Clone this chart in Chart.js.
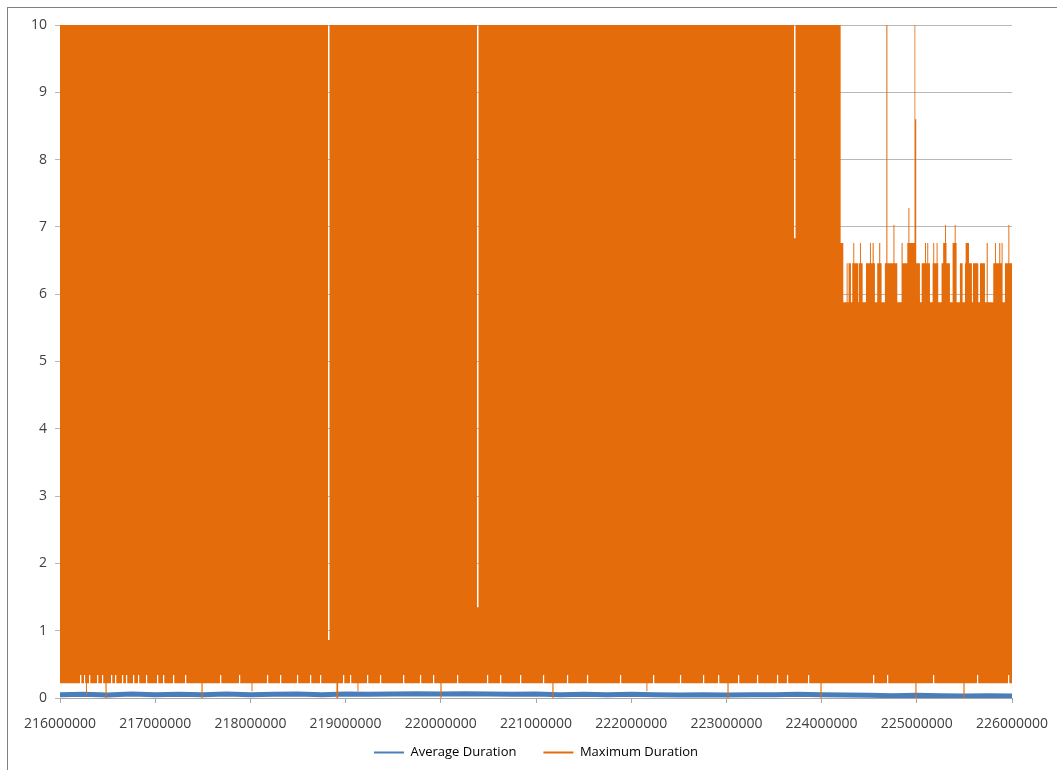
<!DOCTYPE html>
<html>
<head>
<meta charset="utf-8">
<script src="https://cdn.jsdelivr.net/npm/chart.js@4.4.1/dist/chart.umd.min.js"></script>
<style>
  html, body { margin: 0; padding: 0; background: #fff; }
  #wrap { position: relative; width: 1057px; height: 770px; overflow: hidden; }
  #frame { position: absolute; left: 7px; top: 7px; right: 0; bottom: 0;
           border-left: 1px solid #808080; border-top: 1px solid #808080; }
  #chart { position: absolute; left: 0; top: 0; }
</style>
</head>
<body>
<div id="wrap">
  <div id="frame"></div>
  <canvas id="chart" width="1057" height="770"></canvas>
</div>
<script>
// DATA (x values in thousands)
const xMin = 216000;
const xMax = 226000;
const xStep = 1000;
const yTicksMax = 10;

const ORANGE = '#e46c0a';
const BLUE = '#4a7ebb';

// Average Duration
const avgDuration = [
  [216000, 0.05], [216250, 0.055], [216500, 0.045], [216750, 0.06], [217000, 0.05],
  [217250, 0.055], [217500, 0.05], [217750, 0.06], [218000, 0.05], [218250, 0.055],
  [218500, 0.06], [218750, 0.05], [219000, 0.06], [219250, 0.055], [219500, 0.06],
  [219750, 0.065], [220000, 0.06], [220250, 0.065], [220500, 0.06], [220750, 0.055],
  [221000, 0.06], [221250, 0.05], [221500, 0.055], [221750, 0.05], [222000, 0.055],
  [222250, 0.05], [222500, 0.045], [222750, 0.05], [223000, 0.045], [223250, 0.05],
  [223500, 0.05], [223750, 0.055], [224000, 0.05], [224250, 0.045], [224500, 0.04],
  [224750, 0.035], [225000, 0.04], [225250, 0.035], [225500, 0.03], [225750, 0.035],
  [226000, 0.03]
];

// Maximum Duration - upper edge of the dense band
const maxUpper = [
  [216000, 10], [218815, 0.86], [218831, 10], [220380, 1.35], [220396, 10],
  [223710, 6.83], [223726, 10],
  [224200, 6.76], [224228, 5.88], [224263, 6.46], [224273, 5.88], [224283, 6.46],
  [224308, 5.88], [224322, 6.46], [224333, 6.76], [224343, 6.46], [224385, 5.88],
  [224392, 6.46], [224403, 6.76], [224413, 6.46], [224431, 5.88], [224466, 6.46],
  [224508, 6.76], [224518, 6.46], [224536, 6.76], [224547, 6.46], [224560, 5.88],
  [224584, 6.46], [224605, 6.76], [224616, 6.46], [224630, 5.88], [224665, 6.46],
  [224680, 10], [224691, 6.46], [224755, 7.03], [224765, 6.46], [224795, 5.88],
  [224840, 6.76], [224851, 6.46], [224900, 6.76], [224912, 7.28], [224922, 6.76],
  [224976, 10], [224984, 8.6], [224994, 6.46], [225033, 5.88], [225051, 6.46],
  [225086, 6.76], [225096, 6.46], [225110, 6.76], [225120, 6.46], [225138, 5.88],
  [225166, 6.46], [225173, 6.76], [225183, 6.46], [225208, 6.76], [225218, 6.46],
  [225225, 5.88], [225260, 6.46], [225277, 6.76], [225296, 7.03], [225306, 6.76],
  [225312, 6.46], [225348, 5.88], [225376, 6.76], [225398, 7.03], [225408, 6.76],
  [225418, 5.88], [225453, 6.46], [225481, 5.88], [225506, 6.46], [225513, 6.76],
  [225548, 6.46], [225579, 5.88], [225590, 6.46], [225646, 5.88], [225664, 6.46],
  [225716, 5.88], [225734, 6.76], [225745, 5.88], [225803, 6.46], [225821, 6.76],
  [225831, 6.46], [225866, 6.76], [225877, 6.46], [225891, 6.76], [225901, 5.88],
  [225926, 6.46], [225962, 7.03], [225972, 6.46], [226000, 6.46]
];

// Maximum Duration - lower edge of the dense band
const maxLower = [
  [216000, 0.22],
  [216210, 0.34], [216224, 0.22], [216252, 0.34], [216264, 0.22],
  [216273, 0.05], [216283, 0.22], [216305, 0.34], [216318, 0.22],
  [216389, 0.34], [216402, 0.22], [216441, 0.34], [216454, 0.22],
  [216478, 0.0], [216490, 0.22], [216536, 0.34], [216549, 0.22],
  [216578, 0.34], [216591, 0.22], [216651, 0.34], [216664, 0.22],
  [216693, 0.34], [216706, 0.22], [216767, 0.34], [216780, 0.22],
  [216819, 0.34], [216832, 0.22], [216903, 0.34], [216916, 0.22],
  [217019, 0.34], [217032, 0.22], [217082, 0.34], [217095, 0.22],
  [217187, 0.34], [217200, 0.22], [217313, 0.34], [217326, 0.22],
  [217486, 0.0], [217498, 0.22], [217681, 0.34], [217694, 0.22],
  [217880, 0.34], [217893, 0.22], [218012, 0.1], [218022, 0.22],
  [218174, 0.34], [218187, 0.22], [218311, 0.34], [218324, 0.22],
  [218489, 0.34], [218502, 0.22], [218626, 0.34], [218639, 0.22],
  [218731, 0.34], [218744, 0.22], [218904, 0.0], [218922, 0.22],
  [218973, 0.34], [218986, 0.22], [219046, 0.34], [219059, 0.22],
  [219125, 0.1], [219135, 0.22], [219225, 0.34], [219238, 0.22],
  [219361, 0.34], [219374, 0.22], [219603, 0.34], [219616, 0.22],
  [219781, 0.34], [219794, 0.22], [219918, 0.34], [219931, 0.22],
  [219996, 0.0], [220008, 0.22], [220170, 0.34], [220183, 0.22],
  [220485, 0.34], [220498, 0.22], [220622, 0.34], [220635, 0.22],
  [220832, 0.34], [220845, 0.22], [221073, 0.34], [221086, 0.22],
  [221172, 0.0], [221184, 0.22], [221325, 0.34], [221338, 0.22],
  [221535, 0.34], [221548, 0.22], [221882, 0.34], [221895, 0.22],
  [222160, 0.1], [222170, 0.22], [222229, 0.34], [222242, 0.22],
  [222512, 0.34], [222525, 0.22], [222754, 0.34], [222767, 0.22],
  [222912, 0.34], [222925, 0.22], [223011, 0.0], [223023, 0.22],
  [223122, 0.34], [223135, 0.22], [223321, 0.34], [223334, 0.22],
  [223531, 0.34], [223544, 0.22], [223636, 0.34], [223649, 0.22],
  [223857, 0.34], [223870, 0.22], [223988, 0.0], [224000, 0.22],
  [224540, 0.34], [224553, 0.22], [224687, 0.34], [224700, 0.22],
  [224985, 0.0], [224997, 0.22], [225170, 0.34], [225183, 0.22],
  [225490, 0.0], [225502, 0.22], [225632, 0.34], [225645, 0.22],
  [225958, 0.34], [225971, 0.22], [226000, 0.22]
];

const legendNames = ['Average Duration', 'Maximum Duration'];

function toPoints(arr) {
  return arr.map(p => ({ x: p[0] * 1000, y: p[1] }));
}

Chart.defaults.font.family = "'Open Sans', 'DejaVu Sans', sans-serif";
Chart.defaults.color = '#404040';

const ctx = document.getElementById('chart').getContext('2d');
new Chart(ctx, {
  type: 'line',
  data: {
    datasets: [
      {
        label: legendNames[1],
        data: toPoints(maxUpper),
        stepped: true,
        borderColor: 'rgba(0,0,0,0)',
        borderWidth: 1,
        backgroundColor: ORANGE,
        fill: '+1',
        pointRadius: 0
      },
      {
        label: legendNames[1] + ' (low)',
        data: toPoints(maxLower),
        stepped: true,
        borderColor: 'rgba(0,0,0,0)',
        borderWidth: 1,
        fill: false,
        pointRadius: 0
      },
      {
        label: legendNames[0],
        data: toPoints(avgDuration),
        borderColor: BLUE,
        borderWidth: 5,
        tension: 0,
        fill: false,
        pointRadius: 0
      }
    ]
  },
  options: {
    responsive: false,
    animation: false,
    devicePixelRatio: 1,
    events: [],
    layout: { padding: { left: 0, right: 45, top: 25, bottom: 1 } },
    plugins: {
      tooltip: { enabled: false },
      legend: {
        position: 'bottom',
        fullSize: false,
        labels: {
          boxWidth: 30,
          boxHeight: 2,
          padding: 27,
          color: '#404040',
          font: { size: 13 },
          generateLabels: () => [
            { text: legendNames[0], fillStyle: BLUE, strokeStyle: BLUE, lineWidth: 0, datasetIndex: 2 },
            { text: legendNames[1], fillStyle: ORANGE, strokeStyle: ORANGE, lineWidth: 0, datasetIndex: 0 }
          ]
        }
      }
    },
    scales: {
      x: {
        type: 'linear',
        min: xMin * 1000,
        max: xMax * 1000,
        afterFit: s => {
          s.height = 21;
          // labels sit below the short axis box, so do not clip them to it
          s._computeLabelArea = () => null;
        },
        ticks: {
          stepSize: xStep * 1000,
          autoSkip: false,
          maxRotation: 0,
          padding: 8,
          color: '#404040',
          font: { size: 14, lineHeight: 1.85 },
          callback: v => String(v)
        },
        grid: { drawOnChartArea: false, drawTicks: true, tickLength: 5, color: '#a6a6a6' },
        border: { display: true, color: '#a6a6a6' }
      },
      y: {
        min: 0,
        max: yTicksMax,
        afterFit: s => { s.width = 60; },
        ticks: { stepSize: 1, padding: 8, color: '#404040', font: { size: 14 } },
        grid: { color: '#b8b8b8', tickLength: 5, drawTicks: true },
        border: { display: false }
      }
    }
  }
});
</script>
</body>
</html>
